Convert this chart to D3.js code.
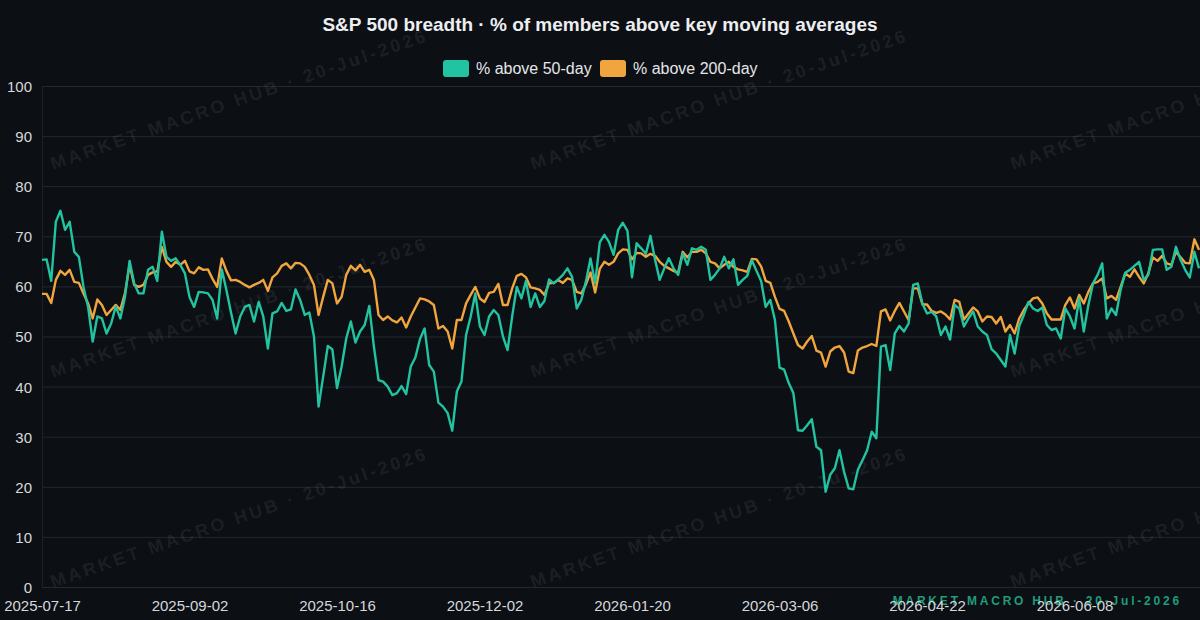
<!DOCTYPE html>
<html>
  <head>
    <meta charset="utf-8">
    <title>S&amp;P 500 breadth</title>
    <script src="https://d3js.org/d3.v7.min.js"></script>
    <style>
      html, body { margin: 0; padding: 0; background: #0c0f14; }
      svg { display: block; font-family: "Liberation Sans", Arial, Helvetica, sans-serif; }
      .grid line { stroke: #232831; stroke-width: 1; }
      .axis text { fill: #d6d8dc; font-size: 15px; }
      .axis path, .axis line { display: none; }
    </style>
  </head>
  <body>
    <div id="vis"></div>
    <script>
      const width = 1200;
      const height = 620;

      // trading-day calendar (NYSE holidays between the first and last session)
      const startDate = "2025-07-17";
      const sessionCount = 252;
      const holidays = ["2025-09-01", "2025-11-27", "2025-12-25", "2026-01-01", "2026-01-19",
                        "2026-02-16", "2026-04-03", "2026-05-25", "2026-06-19", "2026-07-03"];

      const xTickLabels = ["2025-07-17", "2025-09-02", "2025-10-16", "2025-12-02",
                           "2026-01-20", "2026-03-06", "2026-04-22", "2026-06-08"];
      const yTicks = [0, 10, 20, 30, 40, 50, 60, 70, 80, 90, 100];

      const seriesNames = ["% above 50-day", "% above 200-day"];
      const seriesColors = ["#22c3a0", "#f0a53e"];

      // % of members above 50-day moving average
      const above50 = [
        65.3, 65.4, 61.1, 72.9, 75.1, 71.3, 72.9, 66.9, 65.9, 59.9,
        55.9, 49.0, 54.0, 53.6, 50.6, 52.6, 56.0, 53.6, 57.9, 65.1,
        60.6, 58.6, 58.6, 63.3, 63.9, 61.1, 70.9, 65.9, 65.1, 65.6,
        64.3, 62.6, 57.9, 55.9, 58.9, 58.8, 58.6, 57.3, 53.6, 63.4,
        59.3, 54.8, 50.6, 54.0, 55.9, 56.3, 53.0, 56.9, 54.0, 47.6,
        54.6, 55.0, 56.7, 55.1, 55.4, 59.4, 57.3, 54.3, 54.8, 50.0,
        36.0, 42.0, 48.1, 47.4, 39.7, 44.0, 49.6, 53.0, 48.8, 51.0,
        52.3, 56.1, 48.0, 41.3, 41.0, 40.0, 38.3, 38.7, 40.1, 38.5,
        44.0, 45.8, 49.5, 51.6, 44.3, 43.0, 36.8, 36.0, 34.7, 31.2,
        39.0, 41.0, 50.3, 54.0, 58.6, 52.0, 50.3, 54.0, 55.3, 54.3,
        50.0, 47.3, 54.0, 59.9, 57.6, 61.1, 55.9, 58.6, 55.9, 57.1,
        61.4, 60.6, 61.4, 62.3, 63.6, 61.9, 55.6, 57.3, 61.0, 65.6,
        60.6, 68.8, 70.3, 68.9, 66.3, 71.3, 72.7, 71.1, 61.8, 68.6,
        67.6, 66.5, 70.1, 65.3, 61.3, 63.6, 65.6, 63.6, 62.3, 66.6,
        64.3, 67.6, 67.3, 67.9, 67.3, 61.3, 62.3, 63.6, 65.9, 63.6,
        65.4, 60.3, 61.3, 62.1, 65.2, 63.1, 61.1, 55.9, 57.3, 53.3,
        43.8, 43.4, 40.7, 38.7, 31.3, 31.2, 32.3, 33.5, 28.0, 27.3,
        19.0, 22.4, 23.7, 27.3, 23.0, 19.7, 19.5, 23.4, 25.3, 27.3,
        31.0, 29.7, 48.0, 48.3, 43.3, 50.6, 52.1, 51.0, 52.6, 60.3,
        60.6, 56.6, 54.6, 54.9, 54.0, 50.3, 52.0, 49.4, 56.3, 55.6,
        52.0, 53.6, 55.0, 52.0, 51.0, 50.3, 47.5, 46.6, 45.3, 44.0,
        50.3, 46.6, 52.1, 54.3, 56.9, 55.6, 55.1, 55.8, 52.3, 51.3,
        51.6, 49.6, 55.6, 54.0, 51.6, 57.6, 51.0, 56.3, 60.6, 62.3,
        64.6, 53.6, 55.6, 54.3, 59.3, 62.7, 63.3, 64.1, 64.9, 61.3,
        62.3, 67.3, 67.4, 67.4, 63.3, 63.9, 67.9, 65.3, 63.3, 61.8,
        66.9, 63.6
      ];

      // % of members above 200-day moving average
      const above200 = [
        58.5, 58.5, 56.7, 61.3, 63.1, 62.3, 63.3, 60.9, 60.7, 58.6,
        56.6, 53.6, 57.4, 56.3, 54.3, 55.3, 56.3, 55.3, 58.6, 64.3,
        60.3, 59.9, 60.3, 62.3, 62.8, 63.0, 67.9, 64.9, 63.9, 64.9,
        64.3, 65.1, 63.0, 62.6, 63.8, 63.3, 63.4, 61.5, 59.9, 65.6,
        63.1, 61.2, 61.3, 60.9, 60.3, 59.8, 60.3, 60.7, 61.3, 59.1,
        61.8, 62.6, 64.1, 64.6, 63.6, 64.7, 64.6, 63.9, 62.3, 60.3,
        54.3, 57.9, 61.3, 60.6, 56.6, 57.9, 62.3, 64.1, 63.2, 64.3,
        62.9, 63.3, 61.3, 54.3, 53.3, 54.0, 53.2, 52.8, 53.8, 51.8,
        54.0, 55.8, 57.6, 57.4, 57.0, 56.3, 51.6, 52.1, 51.0, 47.6,
        53.3, 53.3, 56.6, 58.3, 59.9, 57.6, 56.9, 58.7, 58.9, 60.5,
        56.3, 56.3, 59.6, 62.1, 62.5, 61.8, 59.8, 59.6, 59.3, 58.3,
        60.6, 60.7, 61.3, 60.7, 61.6, 61.3, 58.9, 58.6, 60.4, 62.8,
        58.8, 63.5, 64.9, 64.3, 64.9, 66.6, 67.4, 67.3, 65.4, 66.7,
        66.6, 65.9, 66.5, 66.1, 64.9, 64.1, 63.6, 63.1, 62.7, 66.9,
        65.8, 66.9, 66.9, 67.3, 66.6, 64.9, 64.6, 63.6, 64.3, 64.9,
        63.9, 63.4, 63.2, 62.9, 65.5, 65.4, 64.0, 61.1, 60.7, 57.9,
        55.5, 55.1, 53.0, 50.6, 48.3, 47.6, 49.0, 50.1, 47.2, 46.8,
        44.0, 47.0, 47.8, 48.1, 46.8, 43.0, 42.7, 47.2, 47.8, 48.1,
        48.5, 48.1, 55.0, 55.4, 53.2, 55.1, 56.7, 55.0, 53.3, 59.6,
        59.6, 56.4, 56.4, 55.1, 54.7, 55.0, 54.4, 53.4, 57.3, 56.9,
        53.4, 54.6, 55.8, 55.0, 53.0, 54.0, 53.9, 52.6, 53.9, 51.0,
        52.3, 50.6, 53.6, 55.3, 56.6, 57.6, 57.8, 56.6, 54.6, 53.4,
        53.4, 53.4, 56.3, 57.8, 55.6, 58.3, 56.6, 58.9, 60.6, 60.9,
        61.6, 57.6, 58.1, 57.3, 59.9, 62.6, 61.9, 63.4, 61.9, 60.6,
        62.6, 65.8, 65.1, 66.1, 64.6, 64.3, 66.9, 65.8, 64.7, 64.6,
        69.4, 67.3
      ];

      // build the list of session dates
      function tradingDays(start, count, skip) {
        const out = [];
        const fmt = d3.utcFormat("%Y-%m-%d");
        let d = new Date(start + "T00:00:00Z");
        while (out.length < count) {
          const s = fmt(d);
          const wd = d.getUTCDay();
          if (wd !== 0 && wd !== 6 && skip.indexOf(s) < 0) out.push(s);
          d = d3.utcDay.offset(d, 1);
        }
        return out;
      }
      const dates = tradingDays(startDate, sessionCount, holidays);

      const margin = { top: 86, right: 1, bottom: 33, left: 42 };

      const svg = d3.select("#vis")
                    .append("svg")
                    .attr("width", width)
                    .attr("height", height);

      svg.append("rect").attr("width", width).attr("height", height).attr("fill", "#0c0f14");

      const x = d3.scalePoint()
                  .domain(dates)
                  .range([margin.left, width - margin.right]);

      const y = d3.scaleLinear()
                  .domain([0, 100])
                  .range([height - margin.bottom, margin.top]);

      // grid lines
      svg.append("g")
         .attr("class", "grid")
         .selectAll("line")
         .data(yTicks)
         .enter()
         .append("line")
         .attr("x1", margin.left)
         .attr("x2", width)
         .attr("y1", d => y(d) + 0.5)
         .attr("y2", d => y(d) + 0.5);

      svg.append("line")
         .attr("x1", margin.left + 0.5).attr("x2", margin.left + 0.5)
         .attr("y1", y(100)).attr("y2", y(0))
         .attr("stroke", "#1c2028");

      // tiled watermark (clipped to the page)
      svg.append("clipPath").attr("id", "page")
         .append("rect").attr("width", width).attr("height", height);

      const wmText = "MARKET MACRO HUB · 20-Jul-2026";
      const wm = svg.append("g").attr("clip-path", "url(#page)").attr("pointer-events", "none");
      [53, 533, 1013].forEach(function(wx) {
        [170, 378, 588].forEach(function(wy) {
          wm.append("text")
            .attr("transform", "translate(" + wx + "," + wy + ") rotate(-19)")
            .attr("fill", "#ffffff")
            .attr("fill-opacity", 0.085)
            .attr("font-size", 18)
            .attr("font-weight", "bold")
            .attr("letter-spacing", 3)
            .text(wmText);
        });
      });

      // corner stamp, under the axis labels
      svg.append("text")
         .attr("x", 1182)
         .attr("y", 605)
         .attr("text-anchor", "end")
         .attr("fill", "#1f9c7b")
         .attr("font-size", 12)
         .attr("font-weight", "bold")
         .attr("letter-spacing", 2.8)
         .text(wmText);

      // axes
      svg.append("g")
         .attr("class", "axis")
         .attr("transform", "translate(" + (margin.left - 10) + ",0)")
         .call(d3.axisLeft(y).tickValues(yTicks).tickSize(0).tickPadding(0))
         .selectAll("text")
         .attr("dy", "0.36em");

      svg.append("g")
         .attr("class", "axis")
         .attr("transform", "translate(0," + (height - margin.bottom) + ")")
         .call(d3.axisBottom(x).tickValues(xTickLabels).tickSize(0).tickPadding(13));

      // lines
      const series = [above200, above50];
      const colors = [seriesColors[1], seriesColors[0]];
      const line = d3.line()
                     .x((d, i) => x(dates[i]))
                     .y(d => y(d));

      svg.append("g")
         .selectAll("path")
         .data(series)
         .enter()
         .append("path")
         .attr("fill", "none")
         .attr("stroke", (d, i) => colors[i])
         .attr("stroke-width", 2.4)
         .attr("stroke-linejoin", "round")
         .attr("d", line);

      // title
      svg.append("text")
         .attr("x", width / 2)
         .attr("y", 31)
         .attr("text-anchor", "middle")
         .attr("fill", "#eceef1")
         .attr("font-size", 19)
         .attr("font-weight", "bold")
         .text("S&P 500 breadth · % of members above key moving averages");

      // legend
      const legend = svg.append("g");
      const lx = [443, 600];
      seriesNames.forEach(function(name, i) {
        legend.append("rect")
              .attr("x", lx[i]).attr("y", 60)
              .attr("width", 26).attr("height", 17)
              .attr("rx", 3)
              .attr("fill", seriesColors[i]);
        legend.append("text")
              .attr("x", lx[i] + 33).attr("y", 74)
              .attr("fill", "#e4e6ea")
              .attr("font-size", 16)
              .text(name);
      });
    </script>
  </body>
</html>
